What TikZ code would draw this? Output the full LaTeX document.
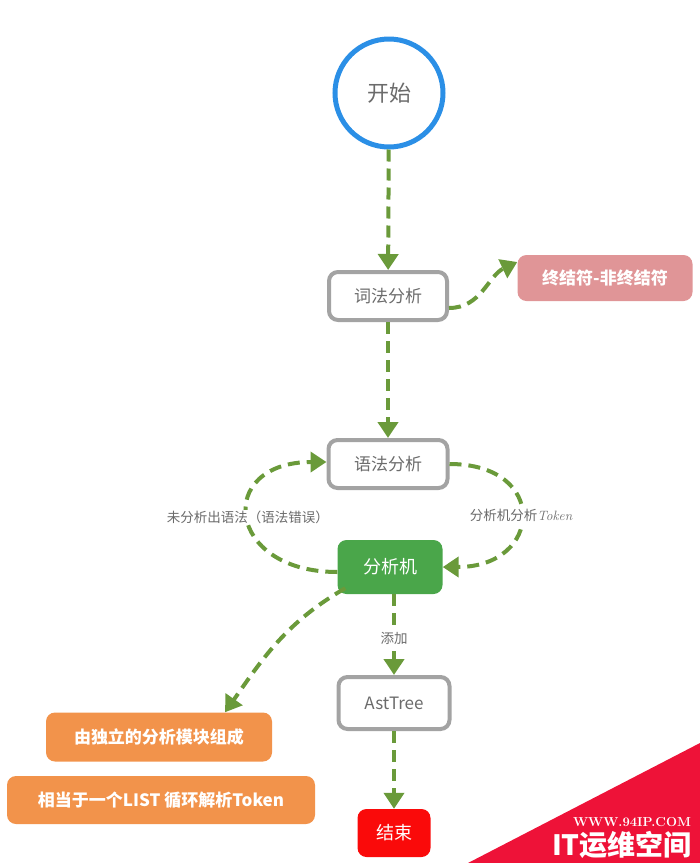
\documentclass[tikz,border=0pt]{standalone}
\usepackage{fontspec}
\newfontfamily\cjk{Noto Sans CJK SC}
\usetikzlibrary{arrows.meta}
\definecolor{flowgreen}{HTML}{6A9A3A}
\definecolor{startblue}{HTML}{2B8FE6}
\definecolor{boxgray}{HTML}{A3A3A3}
\definecolor{textgray}{HTML}{6B6B6B}
\definecolor{termpink}{HTML}{E09597}
\definecolor{machgreen}{HTML}{4AA64A}
\definecolor{noteorange}{HTML}{F2934B}
\definecolor{endred}{HTML}{FA0A0A}
\definecolor{markred}{HTML}{EE1238}
\tikzset{
  stepbox/.style = {draw = boxgray, line width = 4pt, rounded corners = 9pt, fill = white,
    text = textgray, minimum height = 48pt, font = \cjk\fontsize{17}{20}\selectfont},
  filledbox/.style = {rounded corners = 9pt, text = white, minimum height = 48pt,
    font = \cjk\bfseries\fontsize{17}{20}\selectfont},
  flow/.style = {flowgreen, line width = 4pt, dash pattern = on 12pt off 7pt,
    -{Triangle[width = 20pt, length = 16pt]}},
  flowlabel/.style = {fill = white, text = textgray, inner sep = 1pt,
    font = \cjk\fontsize{13.5}{15}\selectfont}
}
\begin{document}
\begin{tikzpicture}[x = 1pt, y = 1pt]
\useasboundingbox (0,0) rectangle (700,-863);
% main column
\node[draw = startblue, line width = 5pt, circle, minimum size = 108pt, text = textgray,
  font = \cjk\fontsize{22}{26}\selectfont] (start) at (389,-93) {开始};
\node[stepbox, minimum width = 118pt] (lex) at (388,-296) {词法分析};
\node[filledbox, fill = termpink, minimum width = 175pt, minimum height = 46pt] (term) at (605,-278) {终结符-非终结符};
\node[stepbox, minimum width = 119pt] (syn) at (388,-464) {语法分析};
\node[filledbox, fill = machgreen, minimum width = 105pt, minimum height = 54pt,
  font = \cjk\fontsize{18}{20}\selectfont] (mach) at (390,-567) {分析机};
\node[stepbox, minimum width = 111pt, minimum height = 52pt] (ast) at (394,-703) {AstTree};
\node[filledbox, fill = endred, minimum width = 73pt, minimum height = 48pt,
  font = \cjk\fontsize{18}{20}\selectfont] (end) at (394,-833) {结束};
% notes on the left
\node[filledbox, fill = noteorange, minimum width = 226pt, minimum height = 49pt] (note1) at (159,-737) {由独立的分析模块组成};
\node[filledbox, fill = noteorange, minimum width = 308pt, minimum height = 48pt] (note2) at (161,-800) {相当于一个LIST 循环解析Token};
% connectors
\draw[flow] (start) -- (lex);
\draw[flow] ([yshift = -12pt]lex.east) to[out = 0, in = 205] ([yshift = 16pt]term.west);
\draw[flow] (lex) -- (syn);
\draw[flow] (syn.east) .. controls +(100,0) and +(100,0) .. (mach.east)
  node[flowlabel, pos = 0.5] {分析机分析{\rmfamily\itshape Token}};
\draw[flow] ([yshift = -5pt]mach.west) .. controls +(-112,0) and +(-112,0) .. ([yshift = 2pt]syn.west)
  node[flowlabel, pos = 0.5] {未分析出语法（语法错误）};
\draw[flow] (ast.north |- mach.south) -- (ast.north)
  node[flowlabel, pos = 0.55] {添加};
\draw[flow] ([xshift = 8pt, yshift = 6pt]mach.south west) to[out = 210, in = 55] ([xshift = 66pt]note1.north);
\draw[flow] (ast) -- (end);
% corner mark
\fill[markred] (468,-863) -- (700,-743) -- (700,-863) -- cycle;
\node[text = white, font = \bfseries\fontsize{13}{15}\selectfont] (site) at (632,-822) {WWW.94IP.COM};
\node[text = white, font = \cjk\bfseries\fontsize{28}{30}\selectfont] (sitename) at (622,-845) {IT运维空间};
\end{tikzpicture}
\end{document}
